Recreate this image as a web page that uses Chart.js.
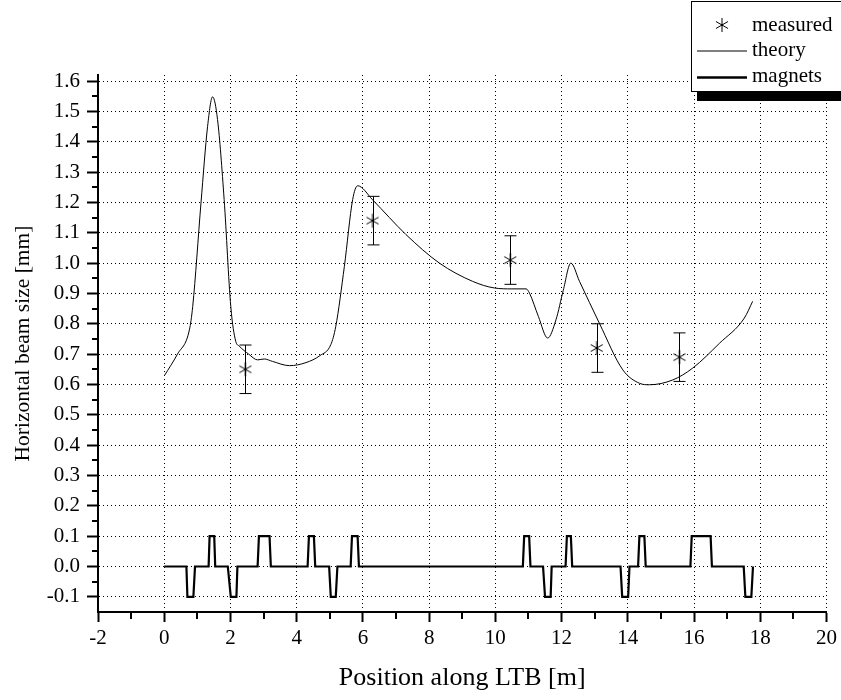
<!DOCTYPE html>
<html>
<head>
<meta charset="utf-8">
<script src="https://cdn.jsdelivr.net/npm/chart.js@4/dist/chart.umd.min.js"></script>
<style>
  body { margin: 0; background: #fff; }
  #wrap { width: 841px; height: 700px; }
</style>
</head>
<body>
<div id="wrap"><canvas id="beamChart" width="841" height="700"></canvas></div>
<script>
// theory curve
const theoryX = [0, 0.4, 0.76, 0.86, 1.11, 1.31, 1.46, 1.61, 1.81, 2.01, 2.16, 2.26, 2.55, 2.82, 3.02, 3.27, 3.78, 4.28, 4.7, 5.03, 5.18, 5.44, 5.69, 5.84, 6.29, 6.8, 7.3, 8.31, 9.31, 9.97, 10.5, 10.93, 11.03, 11.3, 11.58, 11.83, 12.05, 12.28, 12.54, 13.14, 13.85, 14.35, 14.65, 15.36, 15.96, 16.77, 17.52, 17.77];
const theoryY = [0.628, 0.70, 0.78, 0.857, 1.198, 1.451, 1.548, 1.473, 1.209, 0.857, 0.742, 0.727, 0.70, 0.681, 0.684, 0.676, 0.662, 0.672, 0.695, 0.731, 0.791, 0.989, 1.209, 1.255, 1.209, 1.15, 1.094, 1.0, 0.94, 0.918, 0.915, 0.915, 0.901, 0.824, 0.753, 0.813, 0.91, 1.0, 0.94, 0.802, 0.648, 0.604, 0.599, 0.615, 0.654, 0.736, 0.819, 0.874];

// measured points with error
const measuredX = [2.45, 6.29, 10.45, 13.06, 15.56];
const measuredY = [0.65, 1.14, 1.01, 0.72, 0.69];
const measuredErr = [0.08, 0.08, 0.08, 0.08, 0.08];

// magnet layout
const magnetX = [0,
  0.67, 0.70, 0.88, 0.93,
  1.34, 1.37, 1.51, 1.54,
  1.92, 2.01, 2.18, 2.21,
  2.82, 2.86, 3.18, 3.22,
  4.33, 4.37, 4.52, 4.56,
  4.98, 5.03, 5.18, 5.23,
  5.63, 5.67, 5.84, 5.88,
  10.83, 10.87, 11.02, 11.06,
  11.44, 11.50, 11.67, 11.70,
  12.12, 12.16, 12.28, 12.32,
  13.78, 13.83, 14.01, 14.05,
  14.31, 14.35, 14.50, 14.54,
  15.89, 15.93, 16.50, 16.54,
  17.50, 17.55, 17.73, 17.78];
const magnetY = [0,
  0, -0.1, -0.1, 0,
  0, 0.1, 0.1, 0,
  0, -0.1, -0.1, 0,
  0, 0.1, 0.1, 0,
  0, 0.1, 0.1, 0,
  0, -0.1, -0.1, 0,
  0, 0.1, 0.1, 0,
  0, 0.1, 0.1, 0,
  0, -0.1, -0.1, 0,
  0, 0.1, 0.1, 0,
  0, -0.1, -0.1, 0,
  0, 0.1, 0.1, 0,
  0, 0.1, 0.1, 0,
  0, -0.1, -0.1, 0];

// axis settings
const xMin = -2, xMax = 20, xStep = 2;
const yMin = -0.15, yMax = 1.62, yStep = 0.1;
const legendLabels = ['measured', 'theory', 'magnets'];

const FONT = '"Liberation Serif", "DejaVu Serif", serif';

// asterisk marker
function makeAsterisk(r) {
  const c = document.createElement('canvas');
  c.width = c.height = r * 2 + 2;
  const g = c.getContext('2d');
  const m = r + 1;
  g.strokeStyle = '#000';
  g.lineWidth = 1;
  g.beginPath();
  g.moveTo(m, m - r); g.lineTo(m, m + r);
  const dx = r * Math.cos(Math.PI / 6), dy = r * Math.sin(Math.PI / 6);
  g.moveTo(m - dx, m - dy); g.lineTo(m + dx, m + dy);
  g.moveTo(m - dx, m + dy); g.lineTo(m + dx, m - dy);
  g.stroke();
  g.fillStyle = '#000';
  g.fillRect(m - 1, m - 1, 2, 2);
  return c;
}
const starImg = makeAsterisk(7);

const toXY = (xs, ys) => xs.map((x, i) => ({ x: x, y: ys[i] }));

// error bars
const errorBars = {
  id: 'errorBars',
  afterDatasetsDraw(chart) {
    const ctx = chart.ctx;
    const xs = chart.scales.x, ys = chart.scales.y;
    ctx.save();
    ctx.strokeStyle = '#000';
    ctx.lineWidth = 1;
    measuredX.forEach((x, i) => {
      const px = Math.round(xs.getPixelForValue(x)) + 0.5;
      const top = ys.getPixelForValue(measuredY[i] + measuredErr[i]);
      const bot = ys.getPixelForValue(measuredY[i] - measuredErr[i]);
      ctx.beginPath();
      ctx.moveTo(px, top); ctx.lineTo(px, bot);
      ctx.moveTo(px - 6, top); ctx.lineTo(px + 6, top);
      ctx.moveTo(px - 6, bot); ctx.lineTo(px + 6, bot);
      ctx.stroke();
    });
    ctx.restore();
  }
};

// minor ticks + legend box
const extras = {
  id: 'extras',
  afterDraw(chart) {
    const ctx = chart.ctx;
    const xs = chart.scales.x, ys = chart.scales.y;
    const area = chart.chartArea;
    ctx.save();
    ctx.strokeStyle = '#000';
    ctx.lineWidth = 2;
    ctx.beginPath();
    for (let v = xMin + xStep / 2; v < xMax; v += xStep) {
      const px = Math.round(xs.getPixelForValue(v));
      ctx.moveTo(px, area.bottom); ctx.lineTo(px, area.bottom + 7);
    }
    for (let v = -0.05; v < yMax; v += yStep) {
      const py = Math.round(ys.getPixelForValue(v));
      ctx.moveTo(area.left, py); ctx.lineTo(area.left - 6, py);
    }
    ctx.stroke();

    // legend
    const lx = 691, ly = 1, lw = 160, lh = 90;
    ctx.fillStyle = '#000';
    ctx.fillRect(lx + 6, ly + lh, lw, 10);
    ctx.fillStyle = '#fff';
    ctx.fillRect(lx, ly, lw, lh);
    ctx.lineWidth = 1;
    ctx.strokeRect(lx + 0.5, ly + 0.5, lw, lh);

    ctx.drawImage(starImg, 722 - starImg.width / 2, 25 - starImg.height / 2);
    ctx.beginPath();
    ctx.lineWidth = 1;
    ctx.moveTo(697, 51); ctx.lineTo(747, 51);
    ctx.stroke();
    ctx.beginPath();
    ctx.lineWidth = 2.5;
    ctx.moveTo(697, 77.5); ctx.lineTo(747, 77.5);
    ctx.stroke();

    ctx.fillStyle = '#000';
    ctx.font = '21px ' + FONT;
    ctx.textBaseline = 'middle';
    ctx.textAlign = 'left';
    ctx.fillText(legendLabels[0], 752, 25);
    ctx.fillText(legendLabels[1], 752, 50);
    ctx.fillText(legendLabels[2], 752, 76);
    ctx.restore();
  }
};

const ctx = document.getElementById('beamChart').getContext('2d');
new Chart(ctx, {
  type: 'line',
  data: {
    datasets: [{
      label: legendLabels[1],
      data: toXY(theoryX, theoryY),
      borderColor: '#000',
      borderWidth: 1,
      pointRadius: 0,
      cubicInterpolationMode: 'monotone',
      fill: false
    }, {
      label: legendLabels[2],
      data: toXY(magnetX, magnetY),
      borderColor: '#000',
      borderWidth: 2.2,
      pointRadius: 0,
      tension: 0,
      fill: false
    }, {
      label: legendLabels[0],
      data: toXY(measuredX, measuredY),
      showLine: false,
      pointStyle: starImg,
      pointRadius: 7,
      borderColor: '#000'
    }]
  },
  options: {
    responsive: false,
    animation: false,
    layout: { padding: { top: 75, right: 14, left: 0, bottom: 0 } },
    plugins: {
      legend: { display: false },
      tooltip: { enabled: false }
    },
    scales: {
      x: {
        type: 'linear',
        min: xMin,
        max: xMax,
        afterFit: s => { s.height = 88; },
        ticks: {
          stepSize: xStep,
          includeBounds: false,
          color: '#000',
          padding: 4,
          font: { family: FONT, size: 21 },
          callback: v => String(v)
        },
        grid: {
          color: '#000',
          lineWidth: 1,
          tickLength: 10,
          tickWidth: 2,
          tickColor: '#000'
        },
        border: { color: '#000', width: 2, dash: [1, 3] },
        title: {
          display: true,
          text: 'Position along LTB [m]',
          color: '#000',
          font: { family: FONT, size: 26 },
          padding: { top: 0, bottom: 6 }
        }
      },
      y: {
        type: 'linear',
        min: yMin,
        max: yMax,
        afterFit: s => { s.width = 98; },
        ticks: {
          stepSize: yStep,
          includeBounds: false,
          color: '#000',
          padding: 7,
          font: { family: FONT, size: 21 },
          callback: v => Number(v).toFixed(1)
        },
        grid: {
          color: '#000',
          lineWidth: 1,
          tickLength: 11,
          tickWidth: 2,
          tickColor: '#000'
        },
        border: { color: '#000', width: 2, dash: [1, 3] },
        title: {
          display: true,
          text: 'Horizontal beam size [mm]',
          color: '#000',
          font: { family: FONT, size: 21.5 },
          padding: { top: 10, bottom: 0 }
        }
      }
    }
  },
  plugins: [errorBars, extras]
});
</script>
</body>
</html>
